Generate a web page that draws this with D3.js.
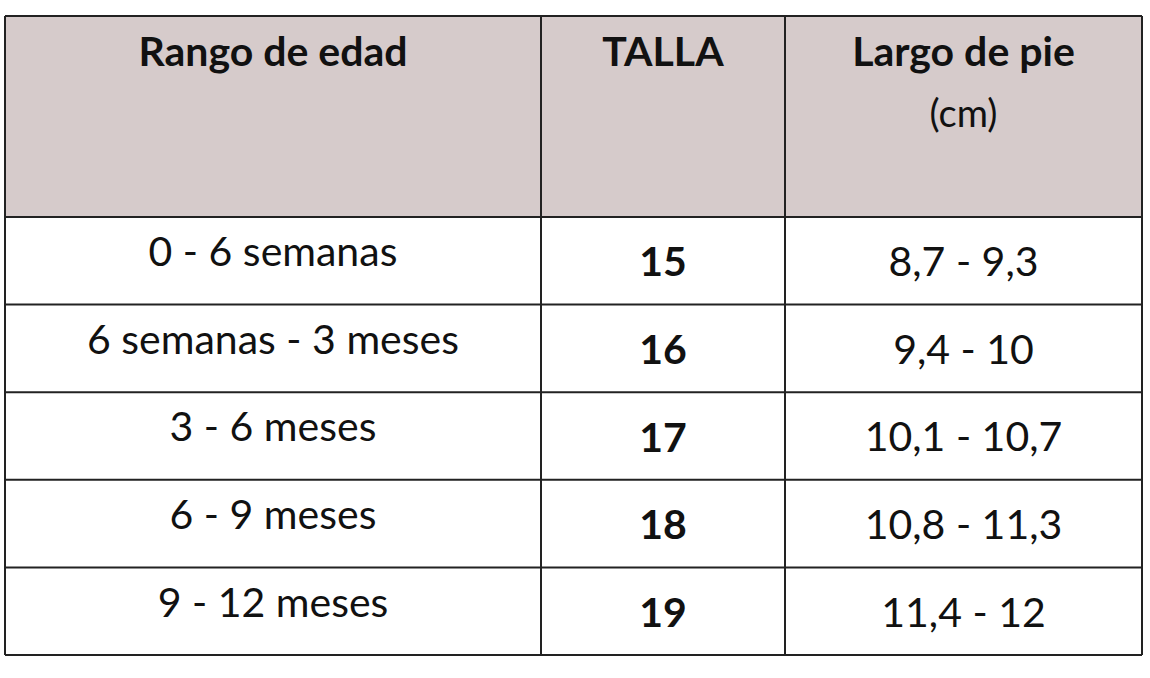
<!DOCTYPE html>
<html><head><meta charset="utf-8">
<script src="https://cdn.jsdelivr.net/npm/d3@7"></script>
<style>body{margin:0;background:#fff}</style></head>
<body><svg id="c" width="1150" height="678"></svg>
<script>
const headers = [["Rango de edad"], ["TALLA"], ["Largo de pie", "(cm)"]];
const ageRanges = ["0 - 6 semanas", "6 semanas - 3 meses", "3 - 6 meses", "6 - 9 meses", "9 - 12 meses"];
const sizes = ["15", "16", "17", "18", "19"];
const footLengths = ["8,7 - 9,3", "9,4 - 10", "10,1 - 10,7", "10,8 - 11,3", "11,4 - 12"];

(function(){
const svg = d3.select("#c");
const colEdges = [5, 541, 785, 1142];
const tableTop = 16, headBottom = 217, tableBottom = 655;
const y = d3.scaleBand().domain(d3.range(ageRanges.length)).range([headBottom, tableBottom]);
const font = "Lato, 'Open Sans', sans-serif";

svg.append("rect").attr("x", colEdges[0]).attr("y", tableTop).attr("width", colEdges[3]-colEdges[0])
  .attr("height", headBottom-tableTop).attr("fill", "#d6cbcb");

headers.forEach((h, i) => {
  const cx = (colEdges[i]+colEdges[i+1])/2;
  h.forEach((line, j) => {
    svg.append("text").attr("x", cx).attr("y", 55 + j*62).attr("text-anchor", "middle")
      .attr("dominant-baseline", "middle").attr("font-family", font)
      .attr("font-size", j === 0 ? 41 : 38).attr("font-weight", j === 0 ? 700 : 400)
      .attr("fill", "#111").text(line);
  });
});

const cols = [ageRanges, sizes, footLengths];
cols.forEach((arr, i) => {
  const cx = (colEdges[i]+colEdges[i+1])/2;
  svg.selectAll(null).data(arr).enter().append("text")
    .attr("x", cx).attr("y", (d, k) => y(k) + y.bandwidth()/2 + (i === 0 ? -5 : 5))
    .attr("text-anchor", "middle").attr("dominant-baseline", "middle")
    .attr("font-family", font).attr("font-size", 41)
    .attr("font-weight", i === 1 ? 700 : 400).attr("fill", "#111").text(d => d);
});

const g = svg.append("g").attr("stroke", "#222").attr("stroke-width", 2);
[tableTop, headBottom, ...d3.range(1, ageRanges.length+1).map(k => y(k-1)+y.bandwidth())].forEach(yy =>
  g.append("line").attr("x1", colEdges[0]).attr("x2", colEdges[3]).attr("y1", yy).attr("y2", yy));
colEdges.forEach(xx => g.append("line").attr("x1", xx).attr("x2", xx).attr("y1", tableTop).attr("y2", tableBottom));
})();
</script></body></html>
